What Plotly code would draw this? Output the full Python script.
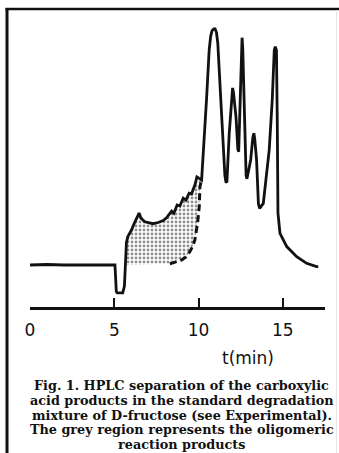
import plotly.graph_objects as go

# HPLC trace of the D-fructose degradation mixture (detector response, arbitrary units)
time_min = [0, 1, 2, 3, 4, 5.0, 5.04, 5.12, 5.18, 5.5, 5.56, 5.6, 5.66, 5.72,
            5.8, 6.02, 6.22, 6.4, 6.47, 6.55, 6.63, 6.81, 7.05, 7.3, 7.6, 7.9,
            8.1, 8.3, 8.4, 8.53, 8.73, 8.89, 9.09, 9.25, 9.44, 9.58, 9.78, 9.9,
            10.05, 10.18, 10.47, 10.63, 10.72, 10.8, 10.9, 10.98, 11.06, 11.14,
            11.32, 11.46, 11.56, 11.62, 11.68, 11.82, 11.97, 12.02, 12.07, 12.22,
            12.33, 12.38, 12.47, 12.55, 12.58, 12.62, 12.69, 12.82, 12.87, 12.92,
            13.09, 13.22, 13.28, 13.33, 13.44, 13.55, 13.62, 13.84, 14.0, 14.19,
            14.37, 14.49, 14.55, 14.62, 14.67, 14.71, 14.83, 15.23, 15.82, 16.41,
            17.0, 17.1]
signal = [0, 0.2, 0, 0.1, 0, 0, 0, -11.3, -11.8, -11.8, -10.5, -9, 0, 9.5,
          12, 14.8, 18.2, 21.5, 22, 20.5, 19.5, 18.3, 17.8, 17.5, 18, 18.8,
          20, 21.9, 22.8, 21.9, 25.4, 25.0, 28.3, 27.5, 30.4, 30.1, 33.9, 37.3,
          36.5, 36.0, 69.9, 91.1, 97, 99.3, 100, 100, 98.6, 94,
          69.9, 48.7, 38, 35.3, 35, 55.9, 73, 75, 73, 62.8,
          49, 48, 70, 94, 96.3, 92, 69.9, 38, 36.5, 38,
          44.5, 54, 55.8, 53.5, 44.5, 26, 24, 26.1, 36, 48.7,
          69.9, 91, 92.5, 91, 60, 22, 13.4, 7.8, 3.5, 0.7,
          -0.7, -0.7]

# lower boundary (dashed) of the oligomer region
dash_time = [8.3, 8.65, 8.99, 9.25, 9.48, 9.66, 9.78, 9.94, 10.04, 10.08, 10.18]
dash_signal = [0.5, 1.3, 2.1, 3.4, 5.6, 8.1, 10.6, 17.7, 24.7, 33.2, 36.0]

tick_vals = [0, 5, 10, 15]
tick_text = ["0", "5", "10", "15"]
axis_title = "t(min)"
caption_lines = [
    "Fig. 1. HPLC separation of the carboxylic",
    "acid products in the standard degradation",
    "mixture of D-fructose (see Experimental).",
    "The grey region represents the oligomeric",
    "reaction products",
]

W, H = 339, 453
L, R, T, B = 30, 14, 20, 146
plot_w = W - L - R
plot_h = H - T - B


def px_x(x):
    return (x - L) / plot_w


def px_y(y):
    return (H - B - y) / plot_h


# shaded region: between the trace and the baseline / dashed boundary
region_start = 5.66
upper = [(t, s) for t, s in zip(time_min, signal) if region_start <= t <= dash_time[-1]]
region_t = [t for t, _ in upper] + dash_time[::-1] + [region_start]
region_s = [s for _, s in upper] + dash_signal[::-1] + [0]

ink = "#111111"

fig = go.Figure()
fig.add_trace(go.Scatter(
    x=region_t, y=region_s, mode="lines", fill="toself",
    line=dict(width=0, color="rgba(0,0,0,0)"),
    fillcolor="white",
    fillpattern=dict(shape=".", fgcolor="#222222", bgcolor="white",
                     size=4, solidity=0.4),
    hoverinfo="skip", showlegend=False,
))
fig.add_trace(go.Scatter(
    x=dash_time, y=dash_signal, mode="lines",
    line=dict(color=ink, width=3, dash="7px,4px"),
    showlegend=False,
))
fig.add_trace(go.Scatter(
    x=time_min, y=signal, mode="lines",
    line=dict(color=ink, width=2.8),
    showlegend=False,
))

annotations = [dict(
    text=axis_title, xref="paper", yref="paper",
    x=px_x(248), y=px_y(358), xanchor="center", yanchor="middle",
    showarrow=False, font=dict(family="DejaVu Sans", size=17, color=ink),
)]
caption_baselines = [389.3, 404.0, 418.7, 433.3, 447.6]
for line, yb in zip(caption_lines, caption_baselines):
    annotations.append(dict(
        text="<b>" + line + "</b>", xref="paper", yref="paper",
        x=px_x(181.5), y=px_y(yb - 3.5), xanchor="center", yanchor="middle",
        showarrow=False,
        font=dict(family="DejaVu Serif", size=12.8, color=ink),
    ))

shapes = [
    # frame: top and left rules
    dict(type="line", xref="paper", yref="paper",
         x0=px_x(5.5), x1=px_x(339), y0=px_y(9), y1=px_y(9),
         line=dict(color=ink, width=2.5)),
    dict(type="line", xref="paper", yref="paper",
         x0=px_x(7), x1=px_x(7), y0=px_y(8), y1=px_y(453),
         line=dict(color=ink, width=3)),
    dict(type="line", xref="paper", yref="paper",
         x0=px_x(336.5), x1=px_x(336.5), y0=px_y(10), y1=px_y(453),
         line=dict(color="#e4e4e4", width=1)),
]

fig.update_layout(
    width=W, height=H,
    margin=dict(l=L, r=R, t=T, b=B, pad=0),
    paper_bgcolor="white", plot_bgcolor="white",
    xaxis=dict(
        range=[0, 17.5], showgrid=False, zeroline=False,
        showline=True, linecolor=ink, linewidth=2.5,
        ticks="inside", ticklen=9, tickwidth=2, tickcolor=ink,
        tickvals=tick_vals, ticktext=tick_text,
        tickfont=dict(family="DejaVu Sans", size=17, color=ink),
        ticklabelstandoff=6,
    ),
    yaxis=dict(range=[-17.8, 103.8], visible=False),
    annotations=annotations,
    shapes=shapes,
    showlegend=False,
)

fig.write_html("out.html")
